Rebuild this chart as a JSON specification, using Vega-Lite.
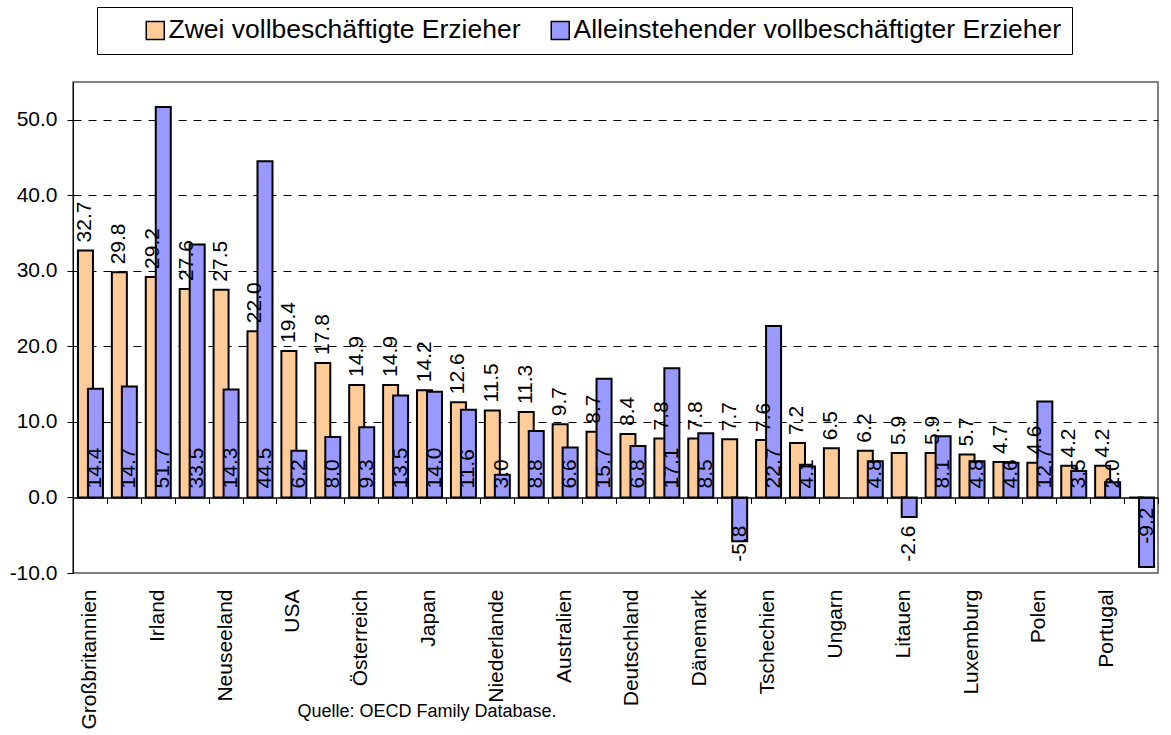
{
  "$schema": "https://vega.github.io/schema/vega-lite/v6.json",
  "width": 1085,
  "height": 491,
  "autosize": {"type": "none"},
  "padding": {"left": 73, "top": 82, "right": 13, "bottom": 162},
  "background": "white",
  "config": {
    "font": "Liberation Sans",
    "view": {"stroke": "#808080", "strokeWidth": 2, "fill": "white"},
    "locale": {"number": {"decimal": ".", "thousands": ",", "grouping": [3], "currency": ["", ""], "minus": "-"}},
    "text": {"font": "Liberation Sans", "fontSize": 21, "color": "black"}
  },
  "data": {
    "values": [
      {"land": "Großbritannien", "zwei": 32.7, "allein": 14.4},
      {"land": "Schweiz", "zwei": 29.8, "allein": 14.7},
      {"land": "Irland", "zwei": 29.2, "allein": 51.7},
      {"land": "Kanada", "zwei": 27.6, "allein": 33.5},
      {"land": "Neuseeland", "zwei": 27.5, "allein": 14.3},
      {"land": "Frankreich", "zwei": 22.0, "allein": 44.5},
      {"land": "USA", "zwei": 19.4, "allein": 6.2},
      {"land": "Belgien", "zwei": 17.8, "allein": 8.0},
      {"land": "Österreich", "zwei": 14.9, "allein": 9.3},
      {"land": "Korea", "zwei": 14.9, "allein": 13.5},
      {"land": "Japan", "zwei": 14.2, "allein": 14.0},
      {"land": "Norwegen", "zwei": 12.6, "allein": 11.6},
      {"land": "Niederlande", "zwei": 11.5, "allein": 3.0},
      {"land": "Finnland", "zwei": 11.3, "allein": 8.8},
      {"land": "Australien", "zwei": 9.7, "allein": 6.6},
      {"land": "Island", "zwei": 8.7, "allein": 15.7},
      {"land": "Deutschland", "zwei": 8.4, "allein": 6.8},
      {"land": "Schweden", "zwei": 7.8, "allein": 17.1},
      {"land": "Dänemark", "zwei": 7.8, "allein": 8.5},
      {"land": "Slowakei", "zwei": 7.7, "allein": -5.8},
      {"land": "Tschechien", "zwei": 7.6, "allein": 22.7},
      {"land": "Estland", "zwei": 7.2, "allein": 4.1},
      {"land": "Ungarn", "zwei": 6.5, "allein": null},
      {"land": "Slowenien", "zwei": 6.2, "allein": 4.8},
      {"land": "Litauen", "zwei": 5.9, "allein": -2.6},
      {"land": "Lettland", "zwei": 5.9, "allein": 8.1},
      {"land": "Luxemburg", "zwei": 5.7, "allein": 4.8},
      {"land": "Griechenland", "zwei": 4.7, "allein": 4.6},
      {"land": "Polen", "zwei": 4.6, "allein": 12.7},
      {"land": "Italien", "zwei": 4.2, "allein": 3.5},
      {"land": "Portugal", "zwei": 4.2, "allein": 2.0},
      {"land": "Spanien", "zwei": 0.0, "allein": -9.2}
    ]
  },
  "layer": [
    {
      "mark": {"type": "bar", "width": 15, "xOffset": -4.5, "stroke": "black", "strokeWidth": 2},
      "encoding": {
        "x": {
          "field": "land", "type": "nominal", "sort": null,
          "scale": {"paddingInner": 0, "paddingOuter": 0},
          "axis": {
            "orient": "bottom",
            "values": ["Großbritannien", "Irland", "Neuseeland", "USA", "Österreich", "Japan", "Niederlande", "Australien", "Deutschland", "Dänemark", "Tschechien", "Ungarn", "Litauen", "Luxemburg", "Polen", "Portugal"],
            "labelAngle": -90, "labelFontSize": 21, "labelColor": "black", "labelPadding": 16,
            "labelOverlap": false, "labelLimit": 300,
            "ticks": false, "tickSize": 0, "domain": false, "grid": false,
            "title": "Quelle: OECD Family Database.", "titleFontSize": 18, "titleFontWeight": "normal",
            "titleColor": "black", "titleAlign": "left", "titleAnchor": "start", "titleBaseline": "alphabetic",
            "titleX": 224, "titleY": 143
          }
        },
        "y": {
          "field": "zwei", "type": "quantitative",
          "scale": {"domain": [-10, 55], "nice": false, "zero": false},
          "axis": {
            "title": null, "values": [-10, 0, 10, 20, 30, 40, 50], "format": ".1f",
            "labelFontSize": 21, "labelColor": "black", "labelPadding": 10,
            "tickSize": 6, "tickColor": "black", "domainColor": "black", "domainWidth": 1,
            "grid": true, "gridColor": "black", "gridDash": [8, 7], "gridWidth": 1,
            "gridOpacity": {"condition": {"test": "datum.value <= 0", "value": 0}, "value": 1}
          }
        },
        "color": {
          "datum": "Zwei vollbeschäftigte Erzieher", "type": "nominal",
          "scale": {"domain": ["Zwei vollbeschäftigte Erzieher", "Alleinstehender vollbeschäftigter Erzieher"], "range": ["#FFCC99", "#9999FF"]},
          "legend": {
            "orient": "none", "legendX": 24, "legendY": -75, "direction": "horizontal",
            "title": " ", "titleOrient": "left", "titlePadding": 35, "titleFontSize": 2,
            "labelFontSize": 26.5, "labelColor": "black", "labelOffset": 0, "labelLimit": 800,
            "symbolType": "square", "symbolSize": 324, "symbolStrokeColor": "black", "symbolStrokeWidth": 1.5, "symbolOpacity": 1,
            "columnPadding": 26, "padding": 10, "strokeColor": "black", "fillColor": "white"
          }
        }
      }
    },
    {
      "mark": {"type": "bar", "width": 15, "xOffset": 5.5, "stroke": "black", "strokeWidth": 2},
      "encoding": {
        "x": {
          "field": "land", "type": "nominal", "sort": null,
          "axis": {
            "orient": "bottom", "offset": -75.54, "labels": false, "ticks": true, "tickBand": "extent",
            "tickSize": 6, "tickColor": "black", "tickWidth": 1, "domain": true, "domainColor": "black", "domainWidth": 1.5,
            "grid": false, "title": null, "zindex": 1
          }
        },
        "y": {"field": "allein", "type": "quantitative", "title": null},
        "color": {"datum": "Alleinstehender vollbeschäftigter Erzieher", "type": "nominal"}
      }
    },
    {
      "transform": [{"filter": "datum.zwei !== 0"}],
      "mark": {"type": "text", "angle": -90, "align": "left", "baseline": "middle", "dx": 8, "xOffset": -4.5, "fontSize": 21, "color": "black"},
      "encoding": {
        "x": {"field": "land", "type": "nominal", "sort": null, "axis": null},
        "y": {"field": "zwei", "type": "quantitative", "title": null},
        "text": {"field": "zwei", "type": "quantitative", "format": ".1f"}
      }
    },
    {
      "transform": [{"filter": "isValid(datum.allein) && datum.allein > 0"}],
      "mark": {"type": "text", "angle": -90, "align": "left", "baseline": "middle", "dx": 9, "xOffset": 5.5, "fontSize": 21, "color": "black"},
      "encoding": {
        "x": {"field": "land", "type": "nominal", "sort": null, "axis": null},
        "y": {"datum": 0, "type": "quantitative", "title": null},
        "text": {"field": "allein", "type": "quantitative", "format": ".1f"}
      }
    },
    {
      "transform": [{"filter": "isValid(datum.allein) && datum.allein < 0 && datum.allein > -8"}],
      "mark": {"type": "text", "angle": -90, "align": "right", "baseline": "middle", "dx": -28, "xOffset": 5.5, "fontSize": 21, "color": "black"},
      "encoding": {
        "x": {"field": "land", "type": "nominal", "sort": null, "axis": null},
        "y": {"datum": 0, "type": "quantitative", "title": null},
        "text": {"field": "allein", "type": "quantitative", "format": ".1f"}
      }
    },
    {
      "transform": [{"filter": "isValid(datum.allein) && datum.allein <= -8"}],
      "mark": {"type": "text", "angle": -90, "align": "right", "baseline": "middle", "dx": -10, "xOffset": 5.5, "fontSize": 21, "color": "black"},
      "encoding": {
        "x": {"field": "land", "type": "nominal", "sort": null, "axis": null},
        "y": {"datum": 0, "type": "quantitative", "title": null},
        "text": {"field": "allein", "type": "quantitative", "format": ".1f"}
      }
    }
  ],
  "resolve": {"axis": {"x": "independent"}}
}
